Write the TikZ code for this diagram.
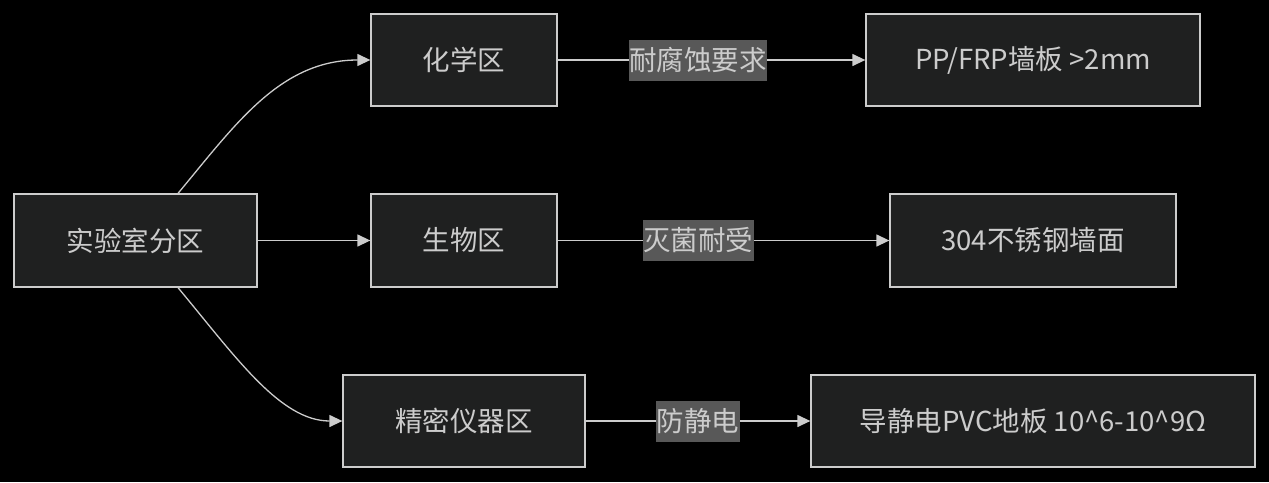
\documentclass[tikz,border=0pt]{standalone}
\usepackage{fontspec}
\setmainfont{Noto Sans CJK SC}
\usetikzlibrary{arrows.meta}
\definecolor{bgc}{HTML}{000000}
\definecolor{nodefill}{HTML}{1F2020}
\definecolor{nodeline}{HTML}{CCCCCC}
\definecolor{txt}{HTML}{CCCCCC}
\definecolor{lblbg}{HTML}{585858}
\tikzset{
  box/.style={draw=nodeline, fill=nodefill, line width=1.3pt, text=txt, inner sep=0pt, font=\fontsize{27.5}{32}\selectfont},
  lbl/.style={fill=lblbg, text=txt, inner xsep=0.5pt, inner ysep=0pt, minimum height=41pt, font=\fontsize{27.5}{32}\selectfont},
  conn/.style={draw=nodeline, line width=1.3pt, -{Triangle[length=13pt,width=12pt]}},
}
\begin{document}
\begin{tikzpicture}[x=1pt,y=-1pt]
\fill[bgc] (0,0) rectangle (1269,482);
\useasboundingbox (0,0) rectangle (1269,482);
\node[box, minimum width=243pt, minimum height=93pt] (A) at (135.5,240.5) {实验室分区};
\node[box, minimum width=186pt, minimum height=92pt] (B) at (464,60) {化学区};
\node[box, minimum width=186pt, minimum height=93pt] (C) at (464,240.5) {生物区};
\node[box, minimum width=242pt, minimum height=92pt] (D) at (464,421) {精密仪器区};
\node[box, minimum width=334pt, minimum height=92pt] (E) at (1033,60) {PP/FRP墙板 >2mm};
\node[box, minimum width=286pt, minimum height=93pt] (F) at (1033,240.5) {304不锈钢墙面};
\node[box, minimum width=444pt, minimum height=92pt] (G) at (1033,421) {导静电PVC地板 10\^{}6-10\^{}9Ω};
\draw[conn] ([xshift=42.5pt]A.north) .. controls (235,125) and (280,60) .. (B.west);
\draw[conn] (A.east) -- (C.west);
\draw[conn] ([xshift=42.5pt]A.south) .. controls (235,356) and (280,421) .. (D.west);
\draw[conn] (B.east) -- node[lbl, pos=0.456] (L1) {耐腐蚀要求} (E.west);
\draw[conn] (C.east) -- node[lbl, pos=0.4234] (L2) {灭菌耐受} (F.west);
\draw[conn] (D.east) -- node[lbl, pos=0.5] (L3) {防静电} (G.west);
\end{tikzpicture}
\end{document}
